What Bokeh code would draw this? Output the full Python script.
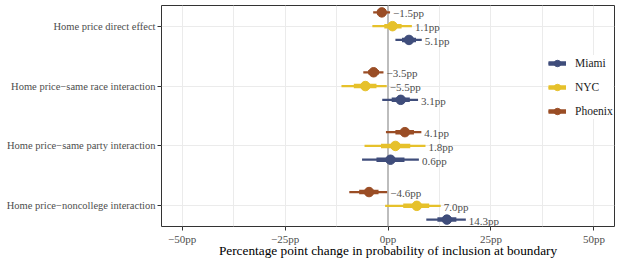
from bokeh.plotting import figure
from bokeh.models import (ColumnDataSource, FixedTicker, CustomJSTickFormatter, Span,
                          Legend, LegendItem, Range1d)
from bokeh.embed import file_html
from bokeh.resources import INLINE
from bokeh.core.properties import value

categories = ["Home price direct effect", "Home price\u2212same race interaction",
              "Home price\u2212same party interaction", "Home price\u2212noncollege interaction"]
cat_pos = [4, 3, 2, 1]
cities = ["Miami", "NYC", "Phoenix"]
colors = {"Miami": "#3f4d7b", "NYC": "#e6c12b", "Phoenix": "#9a4d25"}
dodge = {"Miami": -0.23, "NYC": 0.0, "Phoenix": 0.23}

est = {
    "Miami":   [5.1, 3.1, 0.6, 14.3],
    "NYC":     [1.1, -5.5, 1.8, 7.0],
    "Phoenix": [-1.5, -3.5, 4.1, -4.6],
}
outer_lo = {
    "Miami":   [1.8, -1.4, -6.3, 9.3],
    "NYC":     [-3.8, -11.3, -5.7, -0.7],
    "Phoenix": [-3.6, -6.0, -0.5, -9.4],
}
outer_hi = {
    "Miami":   [8.2, 7.3, 7.5, 18.9],
    "NYC":     [5.8, -0.3, 9.1, 12.8],
    "Phoenix": [0.5, -1.1, 8.1, -0.2],
}
inner_lo = {
    "Miami":   [3.4, 0.9, -2.8, 12.0],
    "NYC":     [-0.9, -8.3, -1.7, 3.7],
    "Phoenix": [-2.6, -4.8, 1.8, -7.0],
}
inner_hi = {
    "Miami":   [6.8, 5.3, 4.0, 16.6],
    "NYC":     [3.3, -2.8, 5.4, 10.0],
    "Phoenix": [-0.5, -2.2, 6.3, -2.3],
}
x_ticks = [-50, -25, 0, 25, 50]
x_minor = [-37.5, -12.5, 12.5, 37.5]

SERIF = "Liberation Serif"

p = figure(width=618, height=260, output_backend="svg", toolbar_location=None,
           x_range=Range1d(-55, 55), y_range=Range1d(0.655, 4.345),
           min_border_left=161, min_border_right=4, min_border_top=5, min_border_bottom=10)

p.background_fill_color = "white"
p.outline_line_color = "#333333"
p.outline_line_width = 1

p.xaxis.ticker = FixedTicker(ticks=x_ticks, minor_ticks=x_minor)
p.xaxis.formatter = CustomJSTickFormatter(code="return (tick < 0 ? '\u2212' : '') + Math.abs(tick) + 'pp';")
p.yaxis.ticker = FixedTicker(ticks=cat_pos)
p.yaxis.formatter = CustomJSTickFormatter(args=dict(labels=categories, pos=cat_pos),
                                          code="const i = pos.indexOf(tick); return i >= 0 ? labels[i] : '';")

for ax in (p.xaxis[0], p.yaxis[0]):
    ax.axis_line_color = None
    ax.major_tick_line_color = "#333333"
    ax.major_tick_out = 4
    ax.major_tick_in = 0
    ax.minor_tick_line_color = None
    ax.major_label_text_font = SERIF
    ax.major_label_text_color = "#4d4d4d"
    ax.major_label_standoff = 2
p.yaxis.major_label_text_font_size = "10.5px"
p.xaxis.major_label_text_font_size = "11px"

p.xaxis.axis_label = "Percentage point change in probability of inclusion at boundary"
p.xaxis.axis_label_text_font = SERIF
p.xaxis.axis_label_text_font_style = "normal"
p.xaxis.axis_label_text_font_size = "13.3px"
p.xaxis.axis_label_text_color = "black"
p.xaxis.axis_label_standoff = -5

p.xgrid.grid_line_color = "#ebebeb"
p.xgrid.grid_line_width = 1
p.xgrid.minor_grid_line_color = "#ebebeb"
p.xgrid.minor_grid_line_width = 1
p.ygrid.grid_line_color = "#ebebeb"
p.ygrid.grid_line_width = 1

zero = Span(location=0, dimension="height", line_color="#bdbdbd", line_width=2, level="underlay")
p.add_layout(zero)

legend_items = {}
for city in cities:
    y = [c + dodge[city] for c in cat_pos]
    labels = [("\u2212" if v < 0 else "") + f"{abs(v):.1f}pp" for v in est[city]]
    src = ColumnDataSource(dict(y=y, est=est[city], olo=outer_lo[city], ohi=outer_hi[city],
                                ilo=inner_lo[city], ihi=inner_hi[city], lab=labels))
    r1 = p.segment(x0="olo", x1="ohi", y0="y", y1="y", source=src,
                   line_color=colors[city], line_width=2.2)
    r2 = p.segment(x0="ilo", x1="ihi", y0="y", y1="y", source=src,
                   line_color=colors[city], line_width=4.5)
    r3 = p.scatter(x="est", y="y", source=src, size=9.5, fill_color=colors[city],
                   line_color=colors[city])
    p.text(x="ohi", y="y", text="lab", source=src, x_offset=3, y_offset=1,
           text_font=value(SERIF), text_font_size="11px", text_color="#4d4d4d",
           text_baseline="middle", text_align="left")
    legend_items[city] = [r1, r2, r3]

legend = Legend(items=[LegendItem(label=c, renderers=legend_items[c]) for c in cities],
                location=(387, 107), orientation="vertical",
                background_fill_color="white", background_fill_alpha=1.0,
                border_line_color=None, glyph_width=18, glyph_height=16,
                label_height=16, spacing=8, padding=5, margin=0, label_standoff=9,
                label_text_font=SERIF, label_text_font_size="11.5px",
                label_text_color="#1a1a1a")
p.add_layout(legend)

open("out.html", "w").write(file_html(p, INLINE))
